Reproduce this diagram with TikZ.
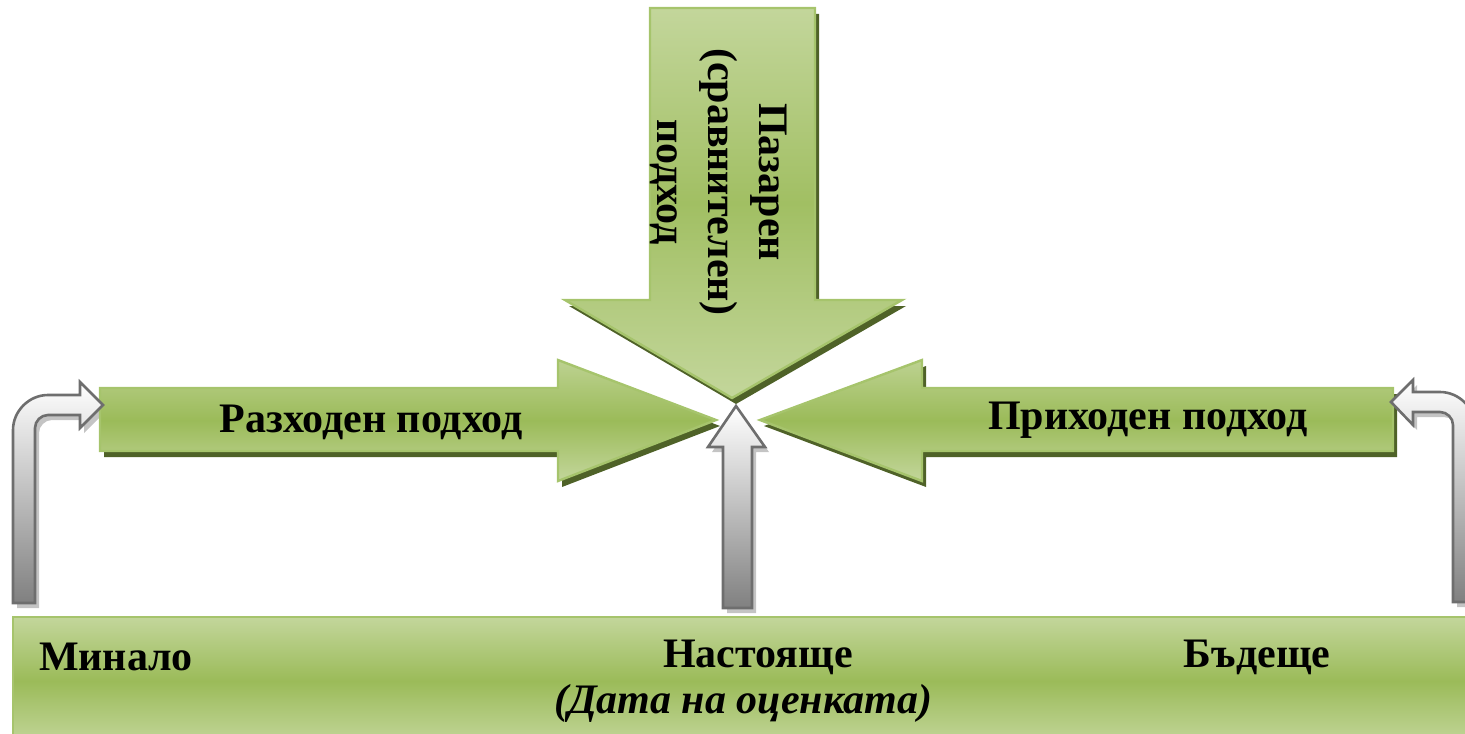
\documentclass[tikz,border=0pt]{standalone}
\usepackage{fontspec}
\setmainfont{Liberation Serif}
\definecolor{gLight}{HTML}{C3D69B}
\definecolor{gMid}{HTML}{9BBB59}
\definecolor{gEdge}{HTML}{A6C46C}
\definecolor{gShadow}{HTML}{4F6228}
\definecolor{grOut}{HTML}{6E6E6E}
\definecolor{grDark}{HTML}{808080}
\definecolor{grShadow}{HTML}{C4C4C4}
\tikzset{
  garrow/.style={draw=gEdge, line width=1.2pt, top color=gLight!85!gMid, bottom color=gLight, middle color=gMid, line join=miter},
  gshadow/.style={fill=gShadow, draw=none},
  grarrow/.style={draw=grOut, line width=1.3pt, top color=white, bottom color=grDark, line join=miter},
  grshadow/.style={fill=grShadow, draw=none},
  lbl/.style={font=\fontsize{21}{25.5}\selectfont\bfseries, inner sep=0pt},
}
\newcommand{\pLeft}{(100,388) -- (558,388) -- (558,360) -- (716,420) -- (558,481) -- (558,451) -- (100,451) -- cycle}
\newcommand{\pRight}{(1393,388) -- (922,388) -- (922,360) -- (760,420) -- (922,481) -- (922,451) -- (1393,451) -- cycle}
\newcommand{\pDown}{(650,8) -- (815,8) -- (815,300) -- (902,300) -- (732,398) -- (565,300) -- (650,300) -- cycle}
\newcommand{\pUp}{(723,608) -- (723,447) -- (708,447) -- (736,406) -- (765,447) -- (752,447) -- (752,608) -- cycle}
\newcommand{\pBentL}{(13,603) -- (13,430) .. controls (13,411) and (29,395) .. (48,395) -- (80,395) -- (80,382) -- (103,405) -- (80,428) -- (80,415) -- (48,415) .. controls (41,415) and (35,421) .. (35,428) -- (35,603) -- cycle}
\newcommand{\pBentR}{(1475,602) -- (1475,427) .. controls (1475,408) and (1459,392) .. (1440,392) -- (1413,392) -- (1413,380) -- (1391,402) -- (1413,425) -- (1413,412) -- (1440,412) .. controls (1447,412) and (1453,418) .. (1453,425) -- (1453,602) -- cycle}
\begin{document}
\begin{tikzpicture}[x=0.5pt,y=-0.5pt]
\useasboundingbox (0,0) rectangle (1465,733);
% bottom bar
\path[draw=gEdge, line width=1.2pt, top color=gLight, bottom color=gLight, middle color=gMid] (13,617) rectangle (1480,745);
% shadows
\begin{scope}[shift={(4,6)}]
  \fill[gshadow] \pLeft;
  \fill[gshadow] \pRight;
  \fill[gshadow] \pDown;
\end{scope}
\begin{scope}[shift={(4,5)}]
  \fill[grshadow] \pUp;
  \fill[grshadow] \pBentL;
  \fill[grshadow] \pBentR;
\end{scope}
% green arrows
\path[garrow] \pLeft;
\path[garrow] \pRight;
\path[draw=gEdge, line width=1.2pt, top color=gLight, bottom color=gLight, middle color=gMid!85!gLight] \pDown;
% grey arrows
\path[grarrow] \pUp;
\path[grarrow] \pBentL;
\path[grarrow] \pBentR;
% labels
\node[lbl] (razhod) at (371,422) {Разходен подход};
\node[lbl] (prihod) at (1148,420) {Приходен подход};
\node[lbl, rotate=-90, align=center] (pazar) at (719,182) {Пазарен\\(сравнителен)\\подход};
\node[lbl] (minalo) at (116,657) {Минало};
\node[lbl] (nast) at (758,657) {Настояще};
\node[lbl] (badeshte) at (1257,657) {Бъдеще};
\node[lbl, font=\fontsize{21}{25.5}\selectfont\bfseries\itshape] (data) at (743,703) {(Дата на оценката)};
\end{tikzpicture}
\end{document}
